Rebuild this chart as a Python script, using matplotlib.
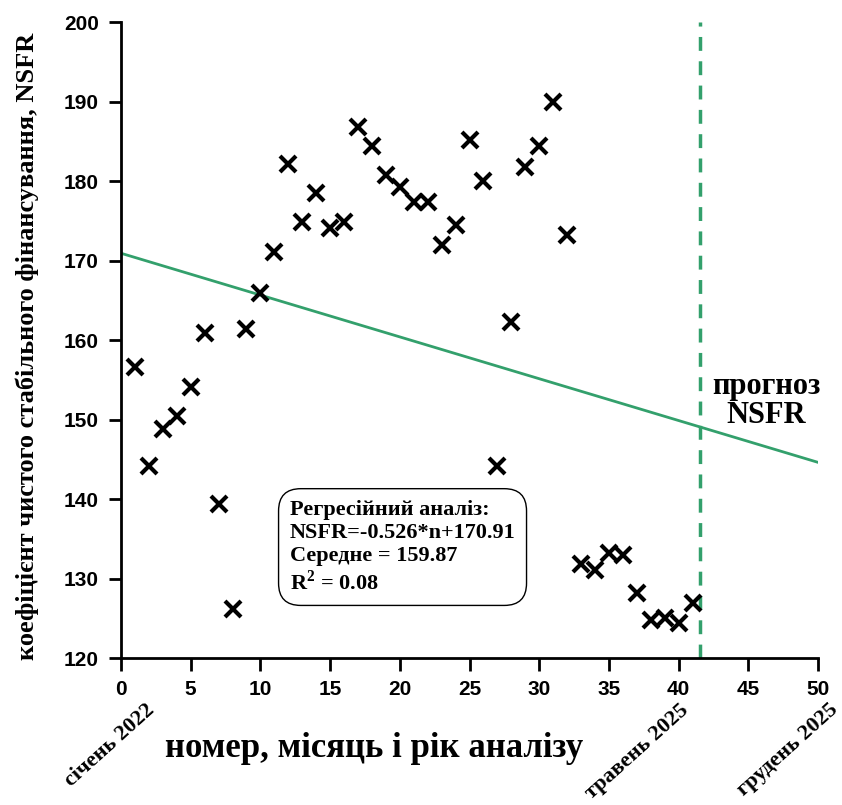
import numpy as np
import matplotlib
matplotlib.use('Agg')
import matplotlib.pyplot as plt

# monthly NSFR values, n = 1..41 (січень 2022 .. травень 2025)
months = list(range(1, 42))
nsfr = [156.6, 144.1, 148.8, 150.4, 154.1, 160.9, 139.4, 126.2, 161.4, 165.9,
        171.1, 182.2, 174.8, 178.5, 174.1, 174.9, 186.8, 184.4, 180.8, 179.3,
        177.3, 177.3, 171.9, 174.5, 185.2, 180.0, 144.2, 162.3, 181.8, 184.4,
        190.0, 173.2, 131.8, 131.1, 133.2, 133.0, 128.2, 124.8, 125.0, 124.4,
        126.9]

slope = -0.526
intercept = 170.91
mean_val = 159.87
r2 = 0.08
forecast_start = 41.5

date_labels = ['січень 2022', 'травень 2025', 'грудень 2025']

green = '#33a06c'
serif = 'Liberation Serif'
sans = 'Liberation Sans'

plt.rcParams['mathtext.fontset'] = 'custom'
plt.rcParams['mathtext.rm'] = 'Liberation Serif:bold'
plt.rcParams['mathtext.bf'] = 'Liberation Serif:bold'

fig = plt.figure(figsize=(8.42, 8.05), dpi=100)
ax = fig.add_axes([121/842, 1 - 658/805, 697/842, 636/805])

# trend line over the full horizon
xl = np.array([0, 50])
ax.plot(xl, slope*xl + intercept, color=green, lw=2, zorder=2)
ax.axvline(forecast_start, color=green, lw=2.5, ls=(0, (4, 3)), zorder=2)

ax.plot(months, nsfr, 'x', color='black', ms=11, mew=3, zorder=3)

ax.set_xlim(0, 50)
ax.set_ylim(120, 200)
ax.set_xticks(range(0, 51, 5))
ax.set_yticks(range(120, 201, 10))
for s in ['top', 'right']:
    ax.spines[s].set_visible(False)
for s in ['left', 'bottom']:
    ax.spines[s].set_linewidth(2)
ax.tick_params(direction='out', length=9, width=2, labelsize=15, pad=7)
for lab in ax.get_xticklabels() + ax.get_yticklabels():
    lab.set_fontfamily(sans)
    lab.set_fontweight('bold')

ax.set_ylabel('коефіцієнт чистого стабільного фінансування, NSFR',
              fontfamily=serif, fontweight='bold', fontsize=19)
ax.yaxis.set_label_coords(-0.118, 0.49)

fig.text(374/842, 1 - 748/805, 'номер, місяць і рік аналізу', fontfamily=serif,
         fontweight='bold', fontsize=25, ha='center', va='center')

# rotated date labels under the axis
for lab, px in zip(date_labels, [145, 679, 829]):
    fig.text(px/842, 1 - 700/805, lab, rotation=42, rotation_mode='anchor',
             ha='right', va='top', fontfamily=serif, fontweight='bold', fontsize=16)

ax.text(46.3, 152.3, 'прогноз\nNSFR', fontfamily=serif, fontweight='bold',
        fontsize=22, ha='center', va='center', linespacing=1.0)

box_text = ('Регресійний аналіз:\n'
            f'NSFR={slope}*n+{intercept}\n'
            f'Середне = {mean_val}\n'
            r'R$^{\mathbf{2}}$' + f' = {r2}')
ax.text(12.1, 139.9, box_text, fontfamily=serif, fontweight='bold', fontsize=16,
        ha='left', va='top', linespacing=1.2,
        bbox=dict(boxstyle='round,pad=0.5,rounding_size=1.0', fc='white', ec='black', lw=1))

fig.savefig('out.png', dpi=100)
